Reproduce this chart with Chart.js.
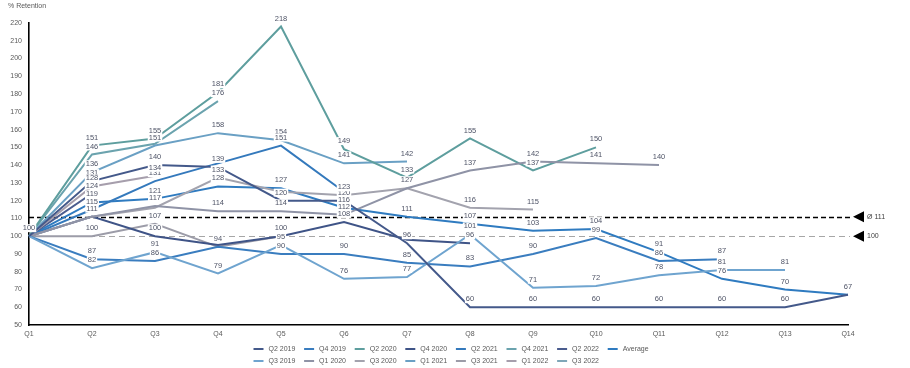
<!DOCTYPE html>
<html><head><meta charset="utf-8">
<script src="https://cdn.jsdelivr.net/npm/chart.js@4.4.1/dist/chart.umd.min.js"></script>
<style>html,body{margin:0;padding:0;background:#fff;}#wrap{width:910px;height:368px;}</style>
</head><body><div id="wrap"><canvas id="c" width="910" height="368"></canvas></div>
<script>
const categories = ['Q1','Q2','Q3','Q4','Q5','Q6','Q7','Q8','Q9','Q10','Q11','Q12','Q13','Q14'];
const seriesNames = ['Q2 2019','Q3 2019','Q4 2019','Q1 2020','Q2 2020','Q3 2020','Q4 2020','Q1 2021','Q2 2021','Q3 2021','Q4 2021','Q1 2022','Q2 2022','Q3 2022','Average'];
const q2_2019 = [100,131,140,139,120,120,96,60,60,60,60,60,60,67];
const q3_2019 = [100,82,91,79,95,76,77,101,71,72,78,81,81];
const q4_2019 = [100,87,86,94,90,90,85,83,90,99,86,87];
const q1_2020 = [100,111,117,114,114,112,127,137,142,141,140];
const q2_2020 = [100,151,155,181,218,149,133,155,137,150];
const q3_2020 = [100,111,116,133,125,123,127,116,115];
const q4_2020 = [100,111,100,95,100,108,98,96];
const q1_2021 = [100,136,151,158,154,141,142];
const q2_2021 = [100,115,131,141,151,125];
const q3_2021 = [100,100,107,94,100];
const q4_2021 = [100,146,152,176];
const q1_2022 = [100,128,134];
const q2_2022 = [100,124];
const q3_2022 = [100];
const average = [100,119,121,128,127,116,111,107,103,104,91,76,70,67];
const overallAverage = 111;
const baseline = 100;
const yTicks = {min:50, max:220, step:10};

const seriesData = [q2_2019,q3_2019,q4_2019,q1_2020,q2_2020,q3_2020,q4_2020,q1_2021,q2_2021,q3_2021,q4_2021,q1_2022,q2_2022,q3_2022,average];
const seriesColors = ['#44598A','#6FA4CF','#3A7DBF','#8F93A6','#5E9E9E','#A3A3AE','#3F5487','#6AA0C4','#3479BC','#9C9CA8','#6BA3AE','#A69EAC','#4A5C8E','#7FA7B8','#2F7BC0'];
const FONT = '"Liberation Sans", Arial, sans-serif';
const TXT = '#595959';

const datasets = seriesNames.map((n,i)=>({label:n, data:seriesData[i], borderColor:seriesColors[i], backgroundColor:seriesColors[i], borderWidth:2, pointRadius:0, tension:0, fill:false}));

const refLines = {
  id:'refLines',
  beforeDatasetsDraw(chart){
    const ctx=chart.ctx, y=chart.scales.y, a=chart.chartArea;
    ctx.save();
    ctx.lineWidth=1.4; ctx.strokeStyle='#000'; ctx.setLineDash([5,3]);
    let yy=Math.round(y.getPixelForValue(overallAverage))+0.5;
    ctx.beginPath(); ctx.moveTo(a.left,yy); ctx.lineTo(a.right+2,yy); ctx.stroke();
    ctx.lineWidth=1; ctx.strokeStyle='#A6A6A6'; ctx.setLineDash([6,4]);
    yy=Math.round(y.getPixelForValue(baseline))+0.5;
    ctx.beginPath(); ctx.moveTo(a.left,yy); ctx.lineTo(a.right+2,yy); ctx.stroke();
    ctx.restore();
  },
  afterDraw(chart){
    const ctx=chart.ctx, y=chart.scales.y, a=chart.chartArea;
    ctx.save();
    ctx.fillStyle='#000';
    [[overallAverage,'Ø '+overallAverage],[baseline,String(baseline)]].forEach(([v,t])=>{
      const yy=y.getPixelForValue(v);
      ctx.beginPath(); ctx.moveTo(a.right+5,yy); ctx.lineTo(a.right+16,yy-5.5); ctx.lineTo(a.right+16,yy+5.5); ctx.closePath(); ctx.fill();
    });
    ctx.fillStyle='#404040'; ctx.font='7px '+FONT; ctx.textBaseline='middle'; ctx.textAlign='left';
    [[overallAverage,'Ø '+overallAverage],[baseline,String(baseline)]].forEach(([v,t])=>{
      ctx.fillText(t,a.right+19,y.getPixelForValue(v));
    });
    // title
    ctx.fillStyle=TXT; ctx.font='7px '+FONT; ctx.fillText('% Retention',8,6);
    // legend (column-major grid)
    const cx=(a.left+a.right)/2, colW=50.6, startX=cx-185;
    ctx.font='7px '+FONT;
    chart.data.datasets.forEach((ds,i)=>{
      const col=Math.floor(i/2), row=i%2;
      const x=startX+col*colW, yy=row?361:349;
      ctx.strokeStyle=ds.borderColor; ctx.lineWidth=2; ctx.setLineDash([]);
      ctx.beginPath(); ctx.moveTo(x,yy); ctx.lineTo(x+10,yy); ctx.stroke();
      ctx.fillStyle=TXT; ctx.fillText(ds.label,x+15,yy);
    });
    ctx.restore();
  }
};

const pointLabels = {
  id:'pointLabels',
  afterDatasetsDraw(chart){
    const ctx=chart.ctx; ctx.save();
    ctx.font='7.5px '+FONT; ctx.textAlign='center'; ctx.textBaseline='middle';
    const placed=[];
    const n=chart.data.datasets.length;
    const order=[n-1]; for(let i=0;i<n-1;i++) order.push(i);
    order.forEach(di=>{
      const ds=chart.data.datasets[di], meta=chart.getDatasetMeta(di);
      meta.data.forEach((pt,i)=>{
        const v=ds.data[i]; if(v==null) return;
        const t=String(Math.round(v)); const w=ctx.measureText(t).width+2, h=8;
        const x=pt.x, yy=pt.y-8;
        for(const b of placed){ if(Math.abs(b.x-x)<(b.w+w)/2 && Math.abs(b.y-yy)<4) return; }
        placed.push({x:x,y:yy,w:w});
        ctx.fillStyle='#fff'; ctx.fillRect(x-w/2,yy-h/2,w,h);
        ctx.fillStyle='#4F5467'; ctx.fillText(t,x,yy);
      });
    });
    ctx.restore();
  }
};

new Chart(document.getElementById('c'),{
  type:'line',
  data:{labels:categories, datasets:datasets},
  options:{
    responsive:false, animation:false, devicePixelRatio:1,
    layout:{padding:{left:0,right:62,top:23,bottom:28}},
    plugins:{legend:{display:false}, tooltip:{enabled:false}, title:{display:false}},
    scales:{
      x:{grid:{display:false,drawTicks:false}, border:{display:true,color:'#000',width:1.6},
         ticks:{color:TXT,font:{size:7,family:FONT},padding:5,maxRotation:0,autoSkip:false},
         afterFit(s){s.height=15;}},
      y:{min:yTicks.min,max:yTicks.max, grid:{display:false,drawTicks:false}, border:{display:true,color:'#000',width:1.6},
         ticks:{stepSize:yTicks.step,color:TXT,font:{size:7,family:FONT},padding:7},
         afterFit(s){s.width=29;}}
    }
  },
  plugins:[refLines,pointLabels]
});
</script></body></html>
